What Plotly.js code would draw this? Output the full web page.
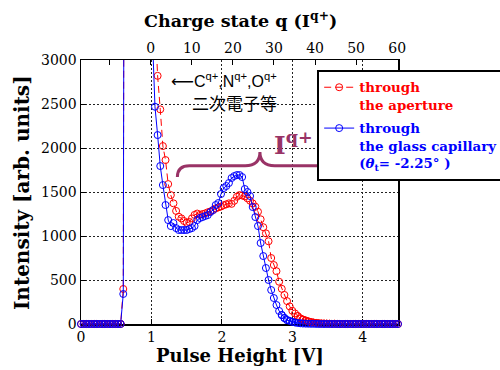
<!DOCTYPE html>
<html>
<head>
<meta charset="utf-8">
<script src="https://cdn.plot.ly/plotly-3.0.1.min.js"></script>
<style>html,body{margin:0;padding:0;background:#fff;}#chart{width:500px;height:370px;}</style>
</head>
<body>
<div id="chart"></div>
<script>
// Pulse height [V]
var pulseHeight = [0, 0.0375, 0.075, 0.1125, 0.15, 0.1875, 0.225, 0.2625, 0.3, 0.3375, 0.375, 0.4125, 0.45, 0.4875, 0.525, 0.5625, 0.6, 0.6375, 0.675, 0.7125, 0.75, 0.7875, 0.825, 0.8625, 0.9, 0.9375, 0.975, 1.0125, 1.05, 1.0875, 1.125, 1.1625, 1.2, 1.2375, 1.275, 1.3125, 1.35, 1.3875, 1.425, 1.4625, 1.5, 1.5375, 1.575, 1.6125, 1.65, 1.6875, 1.725, 1.7625, 1.8, 1.8375, 1.875, 1.9125, 1.95, 1.9875, 2.025, 2.0625, 2.1, 2.1375, 2.175, 2.2125, 2.25, 2.2875, 2.325, 2.3625, 2.4, 2.4375, 2.475, 2.5125, 2.55, 2.5875, 2.625, 2.6625, 2.7, 2.7375, 2.775, 2.8125, 2.85, 2.8875, 2.925, 2.9625, 3, 3.0375, 3.075, 3.1125, 3.15, 3.1875, 3.225, 3.2625, 3.3, 3.3375, 3.375, 3.4125, 3.45, 3.4875, 3.525, 3.5625, 3.6, 3.6375, 3.675, 3.7125, 3.75, 3.7875, 3.825, 3.8625, 3.9, 3.9375, 3.975, 4.0125, 4.05, 4.0875, 4.125, 4.1625, 4.2, 4.2375, 4.275, 4.3125, 4.35, 4.3875, 4.425, 4.4625, 4.5];

// Intensity through the aperture (red)
var apertureIntensity = [0,0,0,0,0,0,0,0,0,0,0,0,0,0,0,0,
  398,
  16000,23000,21000,18000,15000,12000,10000,8000,6500,5200,4200,3400,
  2820,2439,2022,1863,1590,1465,1371,1285,1219,1200,1170,1150,1160,1200,1240,1255,1240,1250,1257,1270,1280,1295,1314,1325,1335,1350,1360,1371,1365,1400,1446,1465,1460,1450,1428,1401,1370,1333,1276,1190,1100,1030,940,750,670,600,480,400,330,260,200,150,120,90,65,50,40,30,22,16,12,8,6,5,4,3,2,2,1,
  0,0,0,0,0,0,0,0,0,0,0,0,0,0,0,0,0,0,0,0,0,0,0];

// Intensity through the glass capillary (blue)
var capillaryIntensity = [0,0,0,0,0,0,0,0,0,0,0,0,0,0,0,0,
  341,
  15000,22000,20000,17000,14000,11000,9000,7000,5500,4300,3300,
  2469,2147,1795,1579,1352,1181,1113,1147,1090,1068,1068,1068,1068,1079,1090,1113,1181,1204,1215,1227,1238,1272,1295,1352,1375,1477,1545,1568,1602,1659,1681,1693,1693,1670,1534,1500,1454,1329,1215,1113,920,772,636,500,386,295,216,148,102,68,45,34,23,17,11,8,5,4,3,2,2,1,
  0,0,0,0,0,0,0,0,0,0,0,0,0,0,0,0,0,0,0,0,0,0,0,0,0,0,0,0,0,0,0];

var xTicks = [0, 1, 2, 3, 4];
var yTicks = [0, 500, 1000, 1500, 2000, 2500, 3000];
var chargeTicks = [-10, 0, 10, 20, 30, 40, 50, 60];
var chargeTickText = ['', '0', '10', '20', '30', '40', '50', '60'];

var names = {
  aperture: '<span style="color:#ff0000">through<br>the aperture</span>',
  capillary: '<span style="color:#0000ff">through<br>the glass capillary<br>(<i>θ</i><sub>t</sub>= -2.25° )</span>'
};
var titles = {
  x: 'Pulse Height [V]',
  y: 'Intensity [arb. units]',
  top: 'Charge state q (I<sup>q+</sup>)'
};

var RED = '#ff0000', BLUE = '#0000ff', PURPLE = '#993366';
var SERIF = 'DejaVu Serif, Liberation Serif, serif';

function lowPoints(xs, ys) {
  var px = [], py = [];
  for (var i = 0; i < xs.length; i++) { if (ys[i] < 120) { px.push(xs[i]); py.push(ys[i]); } }
  return {x: px, y: py};
}
var redLow = lowPoints(pulseHeight, apertureIntensity);
var blueLow = lowPoints(pulseHeight, capillaryIntensity);

var traces = [
  {x: pulseHeight, y: apertureIntensity, type: 'scatter', mode: 'lines+markers', name: names.aperture, legendgroup: 'a',
   line: {color: RED, width: 1, dash: '7px,4px'},
   marker: {symbol: 'circle-open', size: 7, color: RED, line: {width: 1, color: RED}}},
  {x: pulseHeight, y: capillaryIntensity, type: 'scatter', mode: 'lines+markers', name: names.capillary, legendgroup: 'b',
   line: {color: BLUE, width: 1},
   marker: {symbol: 'circle-open', size: 7, color: BLUE, line: {width: 1, color: BLUE}}},
  {x: redLow.x, y: redLow.y, type: 'scatter', mode: 'markers', showlegend: false, cliponaxis: false, hoverinfo: 'skip',
   marker: {symbol: 'circle-open', size: 7, color: RED, line: {width: 1, color: RED}}},
  {x: blueLow.x, y: blueLow.y, type: 'scatter', mode: 'markers', showlegend: false, cliponaxis: false, hoverinfo: 'skip',
   marker: {symbol: 'circle-open', size: 7, color: BLUE, line: {width: 1, color: BLUE}}},
  {x: [0], y: [0], xaxis: 'x2', yaxis: 'y', type: 'scatter', mode: 'markers', showlegend: false, hoverinfo: 'skip',
   marker: {size: 0.1, opacity: 0}}
];

var layout = {
  width: 500, height: 370,
  margin: {l: 81, r: 102, t: 60, b: 46, autoexpand: false},
  paper_bgcolor: '#fff', plot_bgcolor: '#fff',
  showlegend: true,
  font: {family: SERIF, size: 14, color: '#000'},
  xaxis: {
    range: [0, 4.5], tickvals: xTicks, ticks: 'inside', ticklen: 5, tickcolor: '#000',
    showline: true, linecolor: '#000', linewidth: 1.5, mirror: false, zeroline: false,
    showgrid: true, gridcolor: '#222', griddash: '2px,2px', gridwidth: 1,
    layer: 'below traces',
    tickfont: {family: SERIF, size: 14}
  },
  xaxis2: {
    overlaying: 'x', side: 'top', anchor: 'y', range: [-17, 60.2],
    tickvals: chargeTicks, ticktext: chargeTickText, ticks: 'inside', ticklen: 5, tickcolor: '#000',
    showline: true, linecolor: '#000', linewidth: 1.5, showgrid: false, zeroline: false,
    tickfont: {family: SERIF, size: 14}
  },
  yaxis: {
    range: [0, 3000], tickvals: yTicks, ticks: 'inside', ticklen: 5, tickcolor: '#000',
    showline: true, linecolor: '#000', linewidth: 1.5, mirror: true, zeroline: false,
    showgrid: true, gridcolor: '#222', griddash: '2px,2px', gridwidth: 1,
    layer: 'below traces',
    tickfont: {family: SERIF, size: 14}
  },
  legend: {
    x: 0.745, y: 0.962, xanchor: 'left', yanchor: 'top',
    bgcolor: '#fff', bordercolor: '#000', borderwidth: 2,
    font: {family: SERIF, size: 13.4, weight: 'bold'},
    valign: 'top', itemwidth: 30, tracegroupgap: 3
  },
  shapes: [
    {type: 'path', xref: 'x', yref: 'y',
     path: 'M 1.368,1670 Q 1.368,1798 1.54,1798 L 2.33,1798 Q 2.54,1798 2.54,1954 Q 2.54,1798 2.75,1798 L 3.56,1798 Q 3.734,1798 3.734,1670',
     line: {color: PURPLE, width: 3}}
  ],
  annotations: [
    {xref: 'paper', yref: 'paper', x: (240 - 81) / 317, y: (324 - 355) / 264, xanchor: 'center', yanchor: 'middle', showarrow: false,
     text: titles.x, font: {family: SERIF, size: 18, weight: 'bold', color: '#000'}},
    {xref: 'paper', yref: 'paper', x: (22 - 81) / 317, y: (324 - 193) / 264, xanchor: 'center', yanchor: 'middle', showarrow: false,
     textangle: -90, text: titles.y, font: {family: SERIF, size: 20, weight: 'bold', color: '#000'}},
    {xref: 'paper', yref: 'paper', x: (240 - 81) / 317, y: (324 - 20) / 264, xanchor: 'center', yanchor: 'middle', showarrow: false,
     text: titles.top, font: {family: SERIF, size: 17.5, weight: 'bold', color: '#000'}},
    {xref: 'x', yref: 'y', x: 3.02, y: 2056, xanchor: 'center', yanchor: 'middle', showarrow: false,
     text: '<b>I<sup>q+</sup></b>', font: {family: SERIF, size: 25, color: PURPLE}},
    {xref: 'paper', yref: 'paper', x: (279 - 81) / 317, y: (324 - 80) / 264, xanchor: 'right', yanchor: 'middle', showarrow: false,
     text: '<span style="font-family:DejaVu Sans">⟵</span>C<sup>q+</sup>,N<sup>q+</sup>,O<sup>q+</sup>',
     font: {family: 'Liberation Sans, Noto Sans CJK JP, sans-serif', size: 16, color: '#000'}},
    {xref: 'paper', yref: 'paper', x: (279 - 81) / 317, y: (324 - 102) / 264, xanchor: 'right', yanchor: 'middle', showarrow: false,
     text: '二次電子等', font: {family: 'Noto Sans CJK JP, sans-serif', size: 17, color: '#000'}}
  ]
};

Plotly.newPlot('chart', traces, layout, {displayModeBar: false, staticPlot: true});
</script>
</body>
</html>
